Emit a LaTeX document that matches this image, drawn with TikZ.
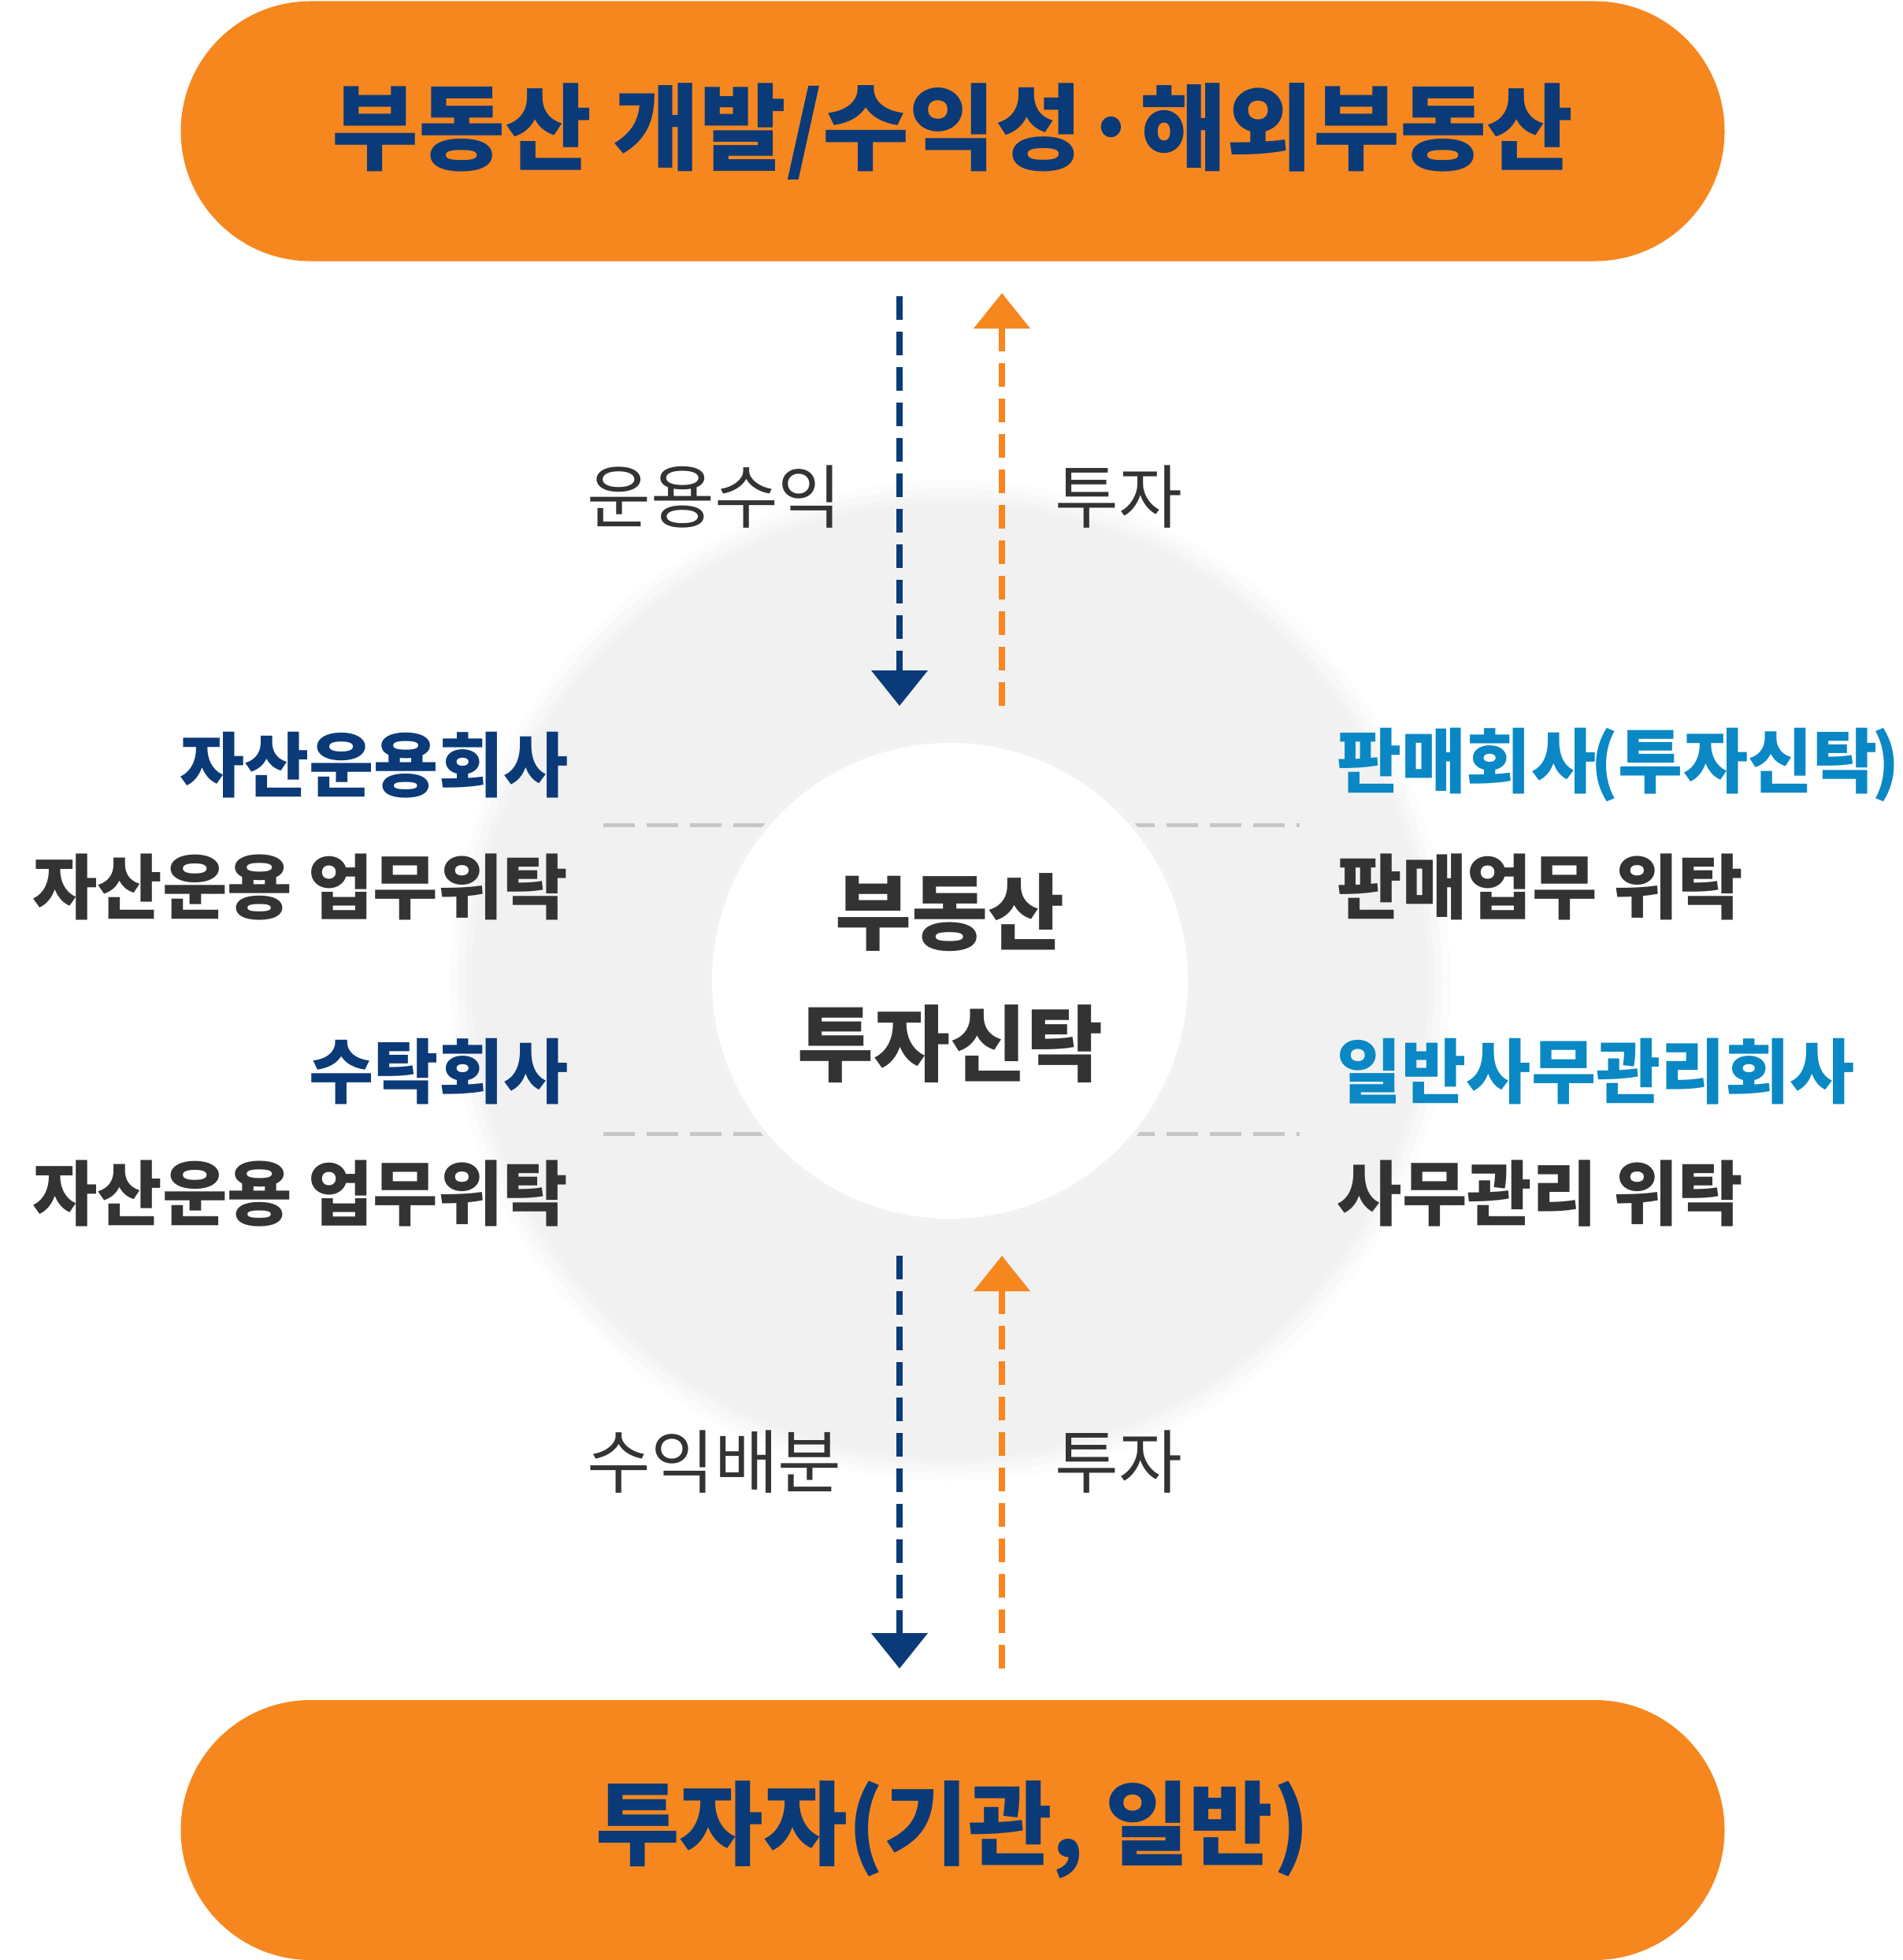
\documentclass[tikz,border=0pt]{standalone}
\usepackage{fontspec}
\setmainfont{Noto Sans CJK KR}
\usetikzlibrary{arrows.meta}

\definecolor{pillorange}{HTML}{F6871F}
\definecolor{navy}{HTML}{0B3A78}
\definecolor{skyblue}{HTML}{0A88C5}
\definecolor{darktext}{HTML}{333333}
\definecolor{ringgray}{HTML}{F1F1F1}

\begin{document}
\begin{tikzpicture}[
	pill/.style={fill=pillorange, rounded corners=1.65cm, minimum width=19.6cm, minimum height=3.3cm, inner sep=0pt},
	pilltext/.style={text=navy, font=\bfseries\fontsize{34pt}{40pt}\selectfont},
	company/.style={font=\bfseries\fontsize{25.4pt}{30pt}\selectfont, inner sep=0pt},
	task/.style={text=darktext, font=\bfseries\fontsize{25.5pt}{30pt}\selectfont, inner sep=0pt},
	flowlabel/.style={text=darktext, font=\fontsize{25pt}{30pt}\selectfont, inner sep=0pt},
	hub/.style={text=darktext, font=\bfseries\fontsize{30pt}{36pt}\selectfont, align=center, inner sep=0pt},
	flowdown/.style={navy, line width=0.08cm, dash pattern=on 0.3cm off 0.15cm, -{Triangle[width=0.7cm,length=0.45cm]}},
	flowup/.style={pillorange, line width=0.08cm, dash pattern=on 0.3cm off 0.15cm, -{Triangle[width=0.7cm,length=0.45cm]}},
	guide/.style={gray!45, line width=0.05cm, dash pattern=on 0.4cm off 0.15cm}
]

		\fill[white] (0,0) rectangle (24.16,-24.88);
		\useasboundingbox (0,0) rectangle (24.16,-24.88);

		\foreach \r/\o in {6.35/0.15, 6.25/0.3, 6.15/0.5, 6.07/1}
			\fill[ringgray, opacity=\o] (12.06,-12.45) circle (\r);

		\draw [guide] (7.66,-10.47) -- (16.5,-10.47);
		\draw [guide] (7.66,-14.39) -- (16.5,-14.39);

		\fill[black!5] (12.06,-12.45) circle (3.08);
		\node (core) at (12.06,-12.45) [circle, fill=white, minimum size=6.04cm] {};
		\node (hub1) at (12.06,-11.58) [hub] {부동산};
		\node (hub2) at (12.06,-13.25) [hub] {투자신탁};

		\node (top) at (12.095,-1.665) [pill, pilltext] {부동산 개발/수익성·해외부동산};
		\node (bottom) at (12.095,-23.23) [pill, pilltext, font=\bfseries\fontsize{33pt}{40pt}\selectfont] {투자자(기관, 일반)};

		\coordinate (a1) at (11.42,-3.76);
		\coordinate (a2) at (11.42,-8.96);
		\coordinate (b1) at (12.72,-8.96);
		\coordinate (b2) at (12.72,-3.72);
		\coordinate (c1) at (11.42,-15.94);
		\coordinate (c2) at (11.42,-21.18);
		\coordinate (d1) at (12.72,-21.18);
		\coordinate (d2) at (12.72,-15.94);

		\draw [flowdown] (a1) -- (a2);
		\draw [flowup] (b1) -- (b2);
		\draw [flowdown] (c1) -- (c2);
		\draw [flowup] (d1) -- (d2);

		\node (lab1) at (9.07,-6.31) [flowlabel] {운용수익};
		\node (lab2) at (14.2,-6.31) [flowlabel] {투자};
		\node (lab3) at (9.07,-18.56) [flowlabel] {수익배분};
		\node (lab4) at (14.2,-18.56) [flowlabel] {투자};

		\node (amc) at (7.22,-9.71) [company, anchor=east, text=navy] {자산운용회사};
		\node (amctask) at (7.22,-11.26) [task, anchor=east] {자산운용 업무위탁};
		\node (trustee) at (7.22,-13.6) [company, anchor=east, text=navy] {수탁회사};
		\node (trusteetask) at (7.22,-15.15) [task, anchor=east] {자산운용 업무위탁};

		\node (seller) at (16.97,-9.71) [company, anchor=west, text=skyblue] {판매회사\kern-0.08em(투자신탁\kern-0.08em)};
		\node (sellertask) at (16.97,-11.26) [task, anchor=west] {판매업무 위탁};
		\node (admin) at (16.97,-13.6) [company, anchor=west, text=skyblue] {일반사무관리회사};
		\node (admintask) at (16.97,-15.15) [task, anchor=west] {사무관리 위탁};

		\end{tikzpicture}
\end{document}
